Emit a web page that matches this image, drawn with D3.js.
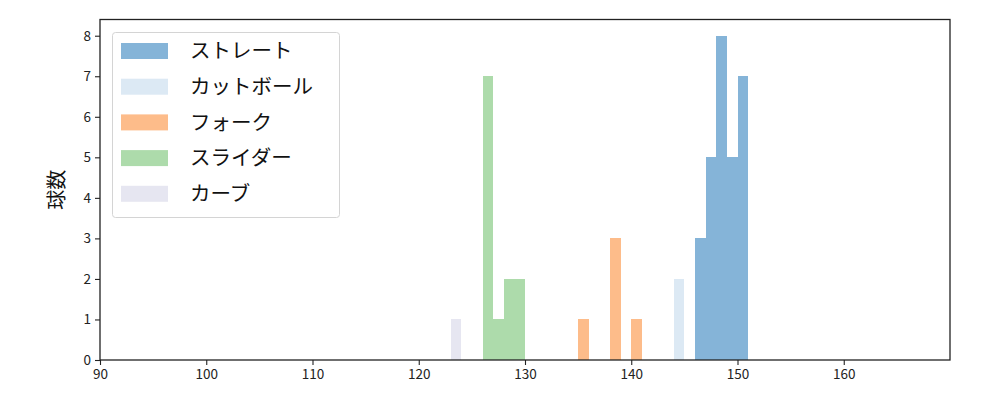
<!DOCTYPE html>
<html>
<head>
<meta charset="utf-8">
<script src="https://cdn.jsdelivr.net/npm/d3@7"></script>
<style>
  body { margin: 0; background: #fff; }
  svg { font-family: "Noto Sans CJK JP", "DejaVu Sans", sans-serif; }
</style>
</head>
<body>
<svg width="1000" height="400"></svg>
<script>
// pitch types and colours
const pitchNames = ["ストレート", "カットボール", "フォーク", "スライダー", "カーブ"];
const pitchColors = ["#85b4d8", "#dce9f4", "#fdbc8a", "#addbab", "#e6e6f1"];

// histogram bins per pitch: [start, end, count] in km/h
const straightBins = [[146, 147, 3], [147, 148, 5], [148, 149, 8], [149, 150, 5], [150, 151, 7]];
const cutBins = [[144, 145, 2]];
const forkBins = [[135, 136, 1], [138, 139, 3], [140, 141, 1]];
const sliderBins = [[126, 127, 7], [127, 128, 1], [128, 129, 2], [129, 130, 2]];
const curveBins = [[123, 124, 1]];

const xTicks = [90, 100, 110, 120, 130, 140, 150, 160];
const yTicks = [0, 1, 2, 3, 4, 5, 6, 7, 8];

const allBins = [straightBins, cutBins, forkBins, sliderBins, curveBins];

const svg = d3.select("svg");
const mLeft = 100, mRight = 950, mTop = 19.5, mBottom = 360;

const x = d3.scaleLinear().domain([90, 170]).range([mLeft, mRight]);
const y = d3.scaleLinear().domain([0, 8.4]).range([mBottom, mTop]);

// bars
allBins.forEach(function(bins, i) {
  svg.append("g")
    .attr("shape-rendering", "crispEdges")
    .selectAll("rect")
    .data(bins)
    .enter().append("rect")
    .attr("x", d => Math.round(x(d[0])))
    .attr("width", d => Math.round(x(d[1])) - Math.round(x(d[0])))
    .attr("y", d => y(d[2]))
    .attr("height", d => y(0) - y(d[2]))
    .attr("fill", pitchColors[i]);
});

// axes
const xAxis = svg.append("g")
  .attr("transform", "translate(0," + mBottom + ")")
  .call(d3.axisBottom(x).tickValues(xTicks).tickSize(5).tickPadding(4));
const yAxis = svg.append("g")
  .attr("transform", "translate(" + mLeft + ",0)")
  .call(d3.axisLeft(y).tickValues(yTicks).tickSize(5).tickPadding(4));

[xAxis, yAxis].forEach(function(a) {
  a.select(".domain").remove();
  a.selectAll("line").attr("stroke", "#222").attr("stroke-width", 1.1);
  a.selectAll("text").attr("fill", "#222").style("font-size", "13.5px")
    .style("font-family", "\"Noto Sans CJK JP\", sans-serif");
});

// frame
svg.append("rect")
  .attr("x", mLeft).attr("y", mTop)
  .attr("width", mRight - mLeft).attr("height", mBottom - mTop)
  .attr("fill", "none").attr("stroke", "#222").attr("stroke-width", 1.3);

// y label
svg.append("text")
  .attr("transform", "translate(64," + ((mTop + mBottom) / 2) + ") rotate(-90)")
  .attr("text-anchor", "middle")
  .style("font-size", "20px")
  .attr("fill", "#111")
  .text("球数");

// legend
const legend = svg.append("g");
legend.append("rect")
  .attr("x", 112.5).attr("y", 32.5)
  .attr("width", 227).attr("height", 185)
  .attr("rx", 3)
  .attr("fill", "#fff").attr("stroke", "#d4d4d4").attr("stroke-width", 1);

pitchNames.forEach(function(name, i) {
  const cy = 51 + i * 35.7;
  legend.append("rect")
    .attr("x", 121).attr("y", cy - 8)
    .attr("width", 47).attr("height", 16)
    .attr("fill", pitchColors[i]);
  legend.append("text")
    .attr("x", 190).attr("y", cy)
    .attr("dy", "0.36em")
    .style("font-size", "20.5px")
    .attr("fill", "#111")
    .text(name);
});
</script>
</body>
</html>
